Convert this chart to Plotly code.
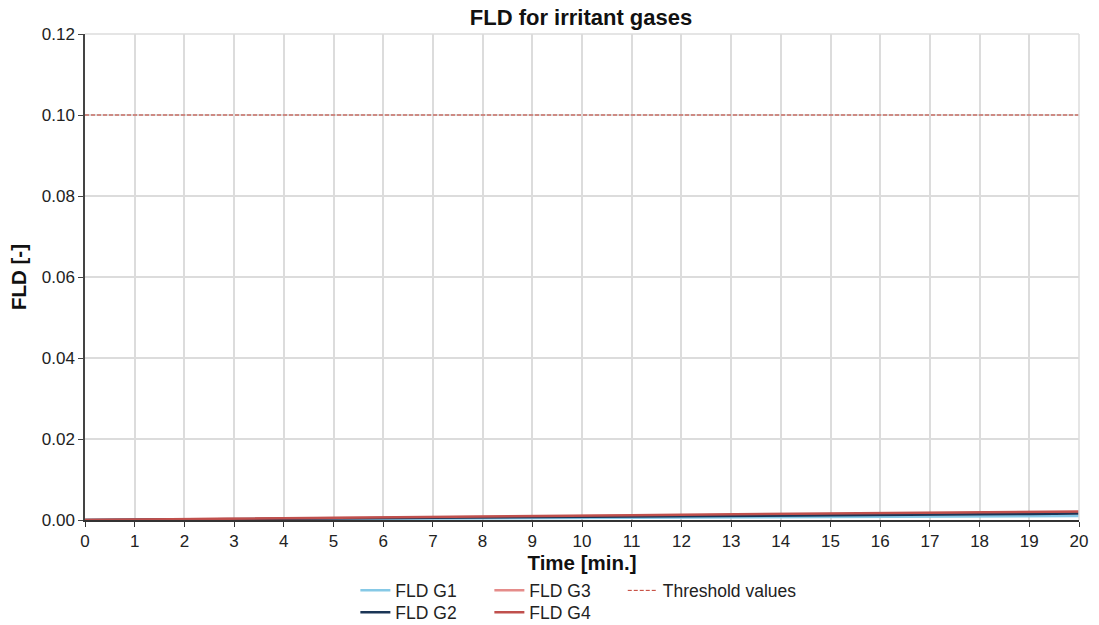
import plotly.graph_objects as go

time_min = list(range(0, 21))
fld_g1 = [0, 0.00005, 0.0001, 0.00015, 0.0002, 0.00025, 0.0003, 0.00035, 0.0004, 0.00045, 0.0005,
          0.00055, 0.0006, 0.00065, 0.0007, 0.00075, 0.0008, 0.00085, 0.0009, 0.00095, 0.001]
fld_g2 = [0, 0.00007, 0.00015, 0.00022, 0.0003, 0.00037, 0.00045, 0.00052, 0.0006, 0.00067, 0.00075,
          0.00082, 0.0009, 0.00097, 0.00105, 0.00112, 0.0012, 0.0013, 0.0014, 0.0015, 0.0016]
fld_g3 = [0, 0.0001, 0.0002, 0.0003, 0.0004, 0.0005, 0.0006, 0.0007, 0.0008, 0.0009, 0.001,
          0.0011, 0.00115, 0.0012, 0.0013, 0.0014, 0.0015, 0.0016, 0.0017, 0.0018, 0.0019]
fld_g4 = [0, 0.00012, 0.00025, 0.0004, 0.0005, 0.0006, 0.0007, 0.0008, 0.0009, 0.001, 0.0011,
          0.0012, 0.0013, 0.0014, 0.0015, 0.0016, 0.0017, 0.0018, 0.0019, 0.002, 0.0021]
threshold = [0.1] * len(time_min)

fig = go.Figure()
fig.add_trace(go.Scatter(x=time_min, y=fld_g1, mode="lines", name="FLD G1", legend="legend",
                         line=dict(color="#86c9e6", width=2.5)))
fig.add_trace(go.Scatter(x=time_min, y=fld_g3, mode="lines", name="FLD G3", legend="legend",
                         line=dict(color="#e58c8a", width=2.5)))
fig.add_trace(go.Scatter(x=time_min, y=threshold, mode="lines", name="Threshold values",
                         legend="legend3",
                         line=dict(color="#c0392b", width=1, dash="4px,2px")))
fig.add_trace(go.Scatter(x=time_min, y=fld_g2, mode="lines", name="FLD G2", legend="legend2",
                         line=dict(color="#1b3556", width=2.5)))
fig.add_trace(go.Scatter(x=time_min, y=fld_g4, mode="lines", name="FLD G4", legend="legend2",
                         line=dict(color="#c0504d", width=2.5)))

font_family = "Liberation Sans, Arial, sans-serif"
leg_font = dict(size=17.5, color="#222")
leg_common = dict(orientation="h", xanchor="left", yanchor="top",
                  entrywidth=89, entrywidthmode="pixels",
                  font=leg_font, bgcolor="rgba(0,0,0,0)")
fig.update_layout(
    width=1099, height=625,
    margin=dict(l=85, r=20, t=34, b=105, autoexpand=False),
    paper_bgcolor="white", plot_bgcolor="white",
    font=dict(family=font_family, size=17, color="#222"),
    title=dict(text="<b>FLD for irritant gases</b>", x=581 / 1099, xanchor="center",
               y=1 - 17 / 625, yanchor="middle", font=dict(size=22, color="#111")),
    showlegend=True,
    legend=dict(x=0.272, y=-0.108, **leg_common),
    legend2=dict(x=0.272, y=-0.153, **leg_common),
    legend3=dict(x=0.541, y=-0.108, orientation="h", xanchor="left", yanchor="top",
                 font=leg_font, bgcolor="rgba(0,0,0,0)"),
    xaxis=dict(range=[0, 20], tickmode="linear", dtick=1, showgrid=True, gridcolor="#dcdcdc",
               gridwidth=1.5, showline=True, linecolor="#333", linewidth=1.5,
               ticks="outside", ticklen=5, tickcolor="#333", zeroline=False,
               title=dict(text="<b>Time [min.]</b>", font=dict(size=20.5, color="#111"), standoff=2),
               mirror=False),
    yaxis=dict(range=[0, 0.12], tickmode="linear", dtick=0.02, tickformat=".2f",
               showgrid=True, gridcolor="#dcdcdc", gridwidth=1.5, showline=True,
               linecolor="#444", linewidth=1.5, ticks="outside", ticklen=5, tickcolor="#444",
               zeroline=False,
               title=dict(text="<b>FLD [-]</b>", font=dict(size=20.5, color="#111"), standoff=10)),
)
fig.add_shape(type="line", xref="paper", yref="paper", x0=1, x1=1, y0=0, y1=1,
              line=dict(color="#dcdcdc", width=1.5))
fig.add_shape(type="line", xref="paper", yref="paper", x0=0, x1=1, y0=1, y1=1,
              line=dict(color="#dcdcdc", width=1.5))

fig.write_html("out.html", config={"displayModeBar": False},
               post_script="document.body.style.margin='0';document.body.style.overflow='hidden';")
